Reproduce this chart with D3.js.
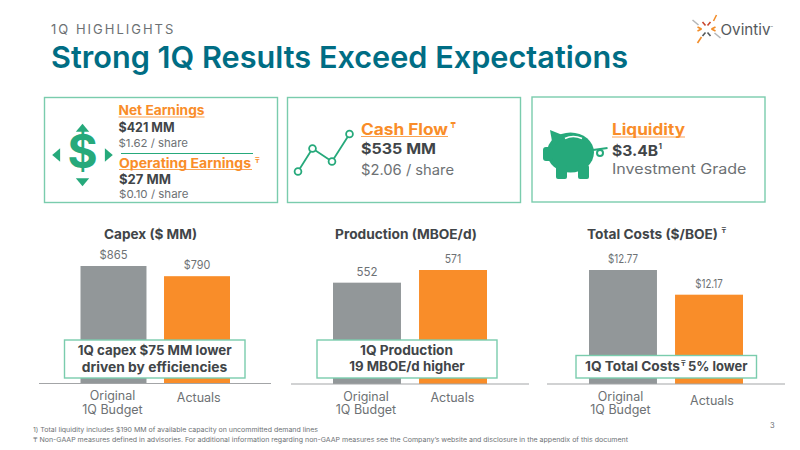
<!DOCTYPE html>
<html>
<head>
<meta charset="utf-8">
<script src="https://cdn.jsdelivr.net/npm/d3@7"></script>
<style>
html, body { margin: 0; padding: 0; background: #fff; }
svg { display: block; }
text { font-family: Inter, "Noto Sans", sans-serif; }
</style>
</head>
<body>
<div id="viz"></div>
<script>
// values
var categories = ['Original|1Q Budget', 'Actuals'];
var capexValues = [865, 790];
var capexLabels = ['$865', '$790'];
var productionValues = [552, 571];
var productionLabels = ['552', '571'];
var costValues = [12.77, 12.17];
var costLabels = ['$12.77', '$12.17'];

var green = '#26a97b', boxGreen = '#7accad', orange = '#f98d29', barGray = '#929799',
    teal = '#006d84', dark = '#414548', mid = '#6d7174';

var svg = d3.select('#viz').append('svg')
    .attr('width', 800)
    .attr('height', 450);

// w is the width the text has to fill, the slide font is wider than ours
function label(x, y, str, size, weight, fill, anchor, w) {
    var t = svg.append('text')
        .attr('x', x).attr('y', y)
        .attr('font-size', size)
        .attr('font-weight', weight)
        .attr('fill', fill)
        .attr('text-anchor', anchor || 'start')
        .text(str);
    if (w) t.attr('textLength', w).attr('lengthAdjust', 'spacingAndGlyphs');
    return t;
}

function box(x, y, w, h) {
    return svg.append('rect')
        .attr('x', x).attr('y', y)
        .attr('width', w).attr('height', h)
        .attr('fill', '#fff')
        .attr('stroke', boxGreen)
        .attr('stroke-width', 1.4);
}

function underline(x1, x2, y) {
    svg.append('line')
        .attr('x1', x1).attr('x2', x2)
        .attr('y1', y).attr('y2', y)
        .attr('stroke', orange)
        .attr('stroke-opacity', 0.8)
        .attr('stroke-width', 1.1);
}

// header
label(51, 33.5, '1Q HIGHLIGHTS', 13, 400, mid, 'start').attr('letter-spacing', 2);
label(51, 68, 'Strong 1Q Results Exceed Expectations', 30.5, 600, teal, 'start', 577);

// logo
var logo = svg.append('g').attr('transform', 'translate(706.5,29)');
var logoTicks = [
    [7, -8, 10, -14, '#f28c28'], [-5, 8, -9, 14, '#f28c28'],
    [-14, -9, -8, -4, '#b4b6b8'], [8, 4, 14, 9, '#b4b6b8'],
    [-4, -7, -1, -3.5, '#c8452c'], [4, -7, 1, -3.5, '#c8452c'],
    [-9, -2, -5, 0, '#f28c28'], [-9, 2, -5, 0, '#f28c28'],
    [9, -2, 5, 0, '#f28c28'], [9, 2, 5, 0, '#f28c28'],
    [-4, 7, -1, 3.5, '#54585a'], [4, 7, 1, 3.5, '#54585a']
];
logo.selectAll('line').data(logoTicks).enter().append('line')
    .attr('x1', function(d) { return d[0]; })
    .attr('y1', function(d) { return d[1]; })
    .attr('x2', function(d) { return d[2]; })
    .attr('y2', function(d) { return d[3]; })
    .attr('stroke', function(d) { return d[4]; })
    .attr('stroke-width', 1.6);
label(720.5, 34.5, 'Ovintiv', 15, 400, '#55595b', 'start', 50);
label(770.5, 29, '™', 4, 400, '#55595b');

// top boxes
box(44.5, 97.5, 233, 105);
box(287.5, 97.5, 233, 105);
box(532, 97, 233, 105);

// net earnings box
label(118.5, 115, 'Net Earnings', 13, 700, orange, 'start', 86);
underline(118.5, 204.5, 117);
label(118.5, 132.3, '$421 MM', 12.5, 700, dark, 'start', 56);
label(118.5, 146.5, '$1.62 / share', 11, 400, mid, 'start', 69.5);
svg.append('line').attr('x1', 121).attr('x2', 253).attr('y1', 153.5).attr('y2', 153.5)
    .attr('stroke', green).attr('stroke-width', 1);
label(119, 167.7, 'Operating Earnings', 13, 700, orange, 'start', 132);
underline(119, 252, 169.5);
label(255, 163, '₸', 7, 700, orange);
label(119, 184, '$27  MM', 12.5, 700, dark, 'start', 52);
label(119, 198.3, '$0.10 / share', 11, 400, mid, 'start', 69.5);

// dollar icon
label(82.5, 168, '$', 46, 700, green, 'middle');
var arrows = [[82.5, 129, 0], [82.5, 181, 180], [57.5, 155, -90], [107.5, 155, 90]];
svg.selectAll('path.arrow').data(arrows).enter().append('path')
    .attr('class', 'arrow')
    .attr('d', d3.symbol(d3.symbolTriangle, 70))
    .attr('fill', green)
    .attr('transform', function(d) { return 'translate(' + d[0] + ',' + d[1] + ') rotate(' + d[2] + ') scale(1.05,0.72)'; });

// cash flow box
label(361, 134.5, 'Cash Flow', 15.5, 700, orange, 'start', 87);
underline(361, 448, 136.5);
label(450.5, 128, '₸', 8, 700, orange);
label(361, 154.3, '$535 MM', 14.5, 700, dark, 'start', 75);
label(361, 175, '$2.06 / share', 14, 400, mid, 'start', 93);

// little line chart icon, just a drawing
var iconPts = [[298, 171.5], [312.5, 148.5], [332, 161.5], [349.5, 134]];
svg.append('path')
    .attr('d', d3.line()(iconPts))
    .attr('fill', 'none')
    .attr('stroke', green)
    .attr('stroke-width', 1.8);
svg.selectAll('circle.pt').data(iconPts).enter().append('circle')
    .attr('class', 'pt')
    .attr('cx', function(d) { return d[0]; })
    .attr('cy', function(d) { return d[1]; })
    .attr('r', 3.4)
    .attr('fill', '#fff')
    .attr('stroke', green)
    .attr('stroke-width', 1.8);

// liquidity box
label(612, 135, 'Liquidity', 15.5, 700, orange, 'start', 73);
underline(612, 685, 137);
label(612, 155.5, '$3.4B', 14.5, 700, dark, 'start', 46);
label(658.5, 149, '1', 8, 700, dark);
label(612, 174.3, 'Investment Grade', 14, 400, mid, 'start', 134.5);

// piggy bank
var pig = svg.append('g').attr('fill', green);
pig.append('ellipse').attr('cx', 570.5).attr('cy', 152.5).attr('rx', 23.5).attr('ry', 20);
pig.append('path').attr('d', 'M550 130 L565 136 L553 147 Z');
pig.append('rect').attr('x', 543).attr('y', 147).attr('width', 10).attr('height', 14).attr('rx', 3);
pig.append('rect').attr('x', 556).attr('y', 165).attr('width', 11).attr('height', 14).attr('rx', 2);
pig.append('rect').attr('x', 578).attr('y', 165).attr('width', 11).attr('height', 14).attr('rx', 2);
svg.append('path').attr('d', 'M565 138.5 Q573 134.5 582 138.5').attr('fill', 'none')
    .attr('stroke', '#fff').attr('stroke-width', 1.6);
svg.append('path').attr('d', 'M593 150 L607.5 148').attr('stroke', green).attr('stroke-width', 2.2);
svg.append('circle').attr('cx', 600).attr('cy', 153).attr('r', 3).attr('fill', 'none')
    .attr('stroke', green).attr('stroke-width', 2);

// bar panels
function panel(o) {
    var x = d3.scaleBand()
        .domain(categories)
        .range(o.xRange)
        .paddingInner(o.inner);
    var y = d3.scaleLinear()
        .domain(o.domain)
        .range([o.base, o.base - o.span]);

    var g = svg.append('g');

    g.selectAll('rect')
        .data(o.values)
        .enter().append('rect')
        .attr('x', function(d, i) { return x(categories[i]); })
        .attr('y', function(d) { return y(d); })
        .attr('width', x.bandwidth())
        .attr('height', function(d) { return o.base - y(d); })
        .attr('fill', function(d, i) { return i === 0 ? barGray : orange; });

    g.selectAll('text.value')
        .data(o.values)
        .enter().append('text')
        .attr('class', 'value')
        .attr('x', function(d, i) { return x(categories[i]) + x.bandwidth() / 2; })
        .attr('y', function(d) { return y(d) - 7; })
        .attr('text-anchor', 'middle')
        .attr('font-size', 11.5)
        .attr('fill', mid)
        .attr('textLength', function(d, i) { return o.valueWidths[i]; })
        .attr('lengthAdjust', 'spacingAndGlyphs')
        .text(function(d, i) { return o.labels[i]; });

    var axis = g.append('g')
        .attr('transform', 'translate(0,' + o.base + ')')
        .call(d3.axisBottom(x).tickSize(0).tickFormat(''));
    axis.select('.domain').remove();
    g.append('line')
        .attr('x1', o.axisLine[0]).attr('x2', o.axisLine[1])
        .attr('y1', o.base).attr('y2', o.base)
        .attr('stroke', '#a3a5a7')
        .attr('stroke-width', 1.2);

    axis.selectAll('.tick text')
        .attr('y', 0).attr('dy', 0)
        .attr('fill', mid)
        .attr('font-size', 12.5)
        .each(function(d, k) {
            var parts = d.split('|'), t = d3.select(this);
            var top = parts.length > 1 ? 16.5 : o.singleY;
            parts.forEach(function(p, i) {
                t.append('tspan').attr('x', o.labelDx[k]).attr('y', top + i * 13.5).text(p);
            });
        });

    label(o.titleX, 239, o.title, 13, 700, dark, 'middle', o.titleWidth);
}

panel({
    title: 'Capex ($ MM)', titleX: 150.5, titleWidth: 93, labels: capexLabels, values: capexValues,
    valueWidths: [28, 26.5], labelDx: [-1, 1.7],
    xRange: [80.5, 230], inner: 0.21, domain: [0, 865], base: 383.5, span: 117.5,
    axisLine: [39, 271], singleY: 18
});
panel({
    title: 'Production (MBOE/d)', titleX: 406, titleWidth: 142, labels: productionLabels, values: productionValues,
    valueWidths: [21, 16.5], labelDx: [-1, -0.7],
    xRange: [333, 487], inner: 0.21, domain: [400, 571], base: 384, span: 114,
    axisLine: [291, 529], singleY: 18
});
panel({
    title: 'Total Costs ($/BOE)', titleX: 652.5, titleWidth: 131, labels: costLabels, values: costValues,
    valueWidths: [30, 27.5], labelDx: [-2.5, 3],
    xRange: [589, 743], inner: 0.21, domain: [10, 12.77], base: 384, span: 114,
    axisLine: [547, 785], singleY: 21
});
label(721.5, 233, '₸', 7, 700, dark);

// callouts on top of bars
box(64.5, 340, 180.5, 38);
label(154.7, 355.2, '1Q capex $75 MM lower', 13, 700, dark, 'middle', 154);
label(154.5, 371.5, 'driven by efficiencies', 13, 700, dark, 'middle', 145.5);

box(317, 340, 180, 38);
label(406.5, 355.2, '1Q Production', 13, 700, dark, 'middle', 93);
label(407, 371, '19 MBOE/d higher', 13, 700, dark, 'middle', 115.5);

box(576, 355.5, 180.5, 22.5);
label(585, 371, '1Q Total Costs', 13, 700, dark, 'start', 95);
label(681, 365.5, '₸', 7, 700, dark);
label(688, 371, '5% lower', 13, 700, dark, 'start', 59.5);

// footnotes
label(33, 432, '1) Total liquidity includes $190 MM of available capacity on uncommitted demand lines', 6.5, 400, mid, 'start', 285);
label(33, 441.7, '₸ Non-GAAP measures defined in advisories. For additional information regarding non-GAAP measures see the Company’s website and disclosure in the appendix of this document', 6.5, 400, mid, 'start', 595);
label(770, 428, '3', 7.5, 400, mid);
</script>
</body>
</html>
